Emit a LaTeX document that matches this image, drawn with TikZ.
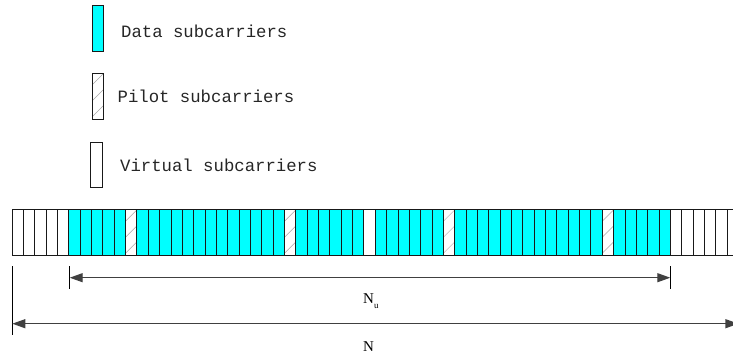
\documentclass[tikz,border=0pt]{standalone}
\usepackage{fontspec}
\setmonofont{Liberation Mono}
\newfontfamily\labelfont{Liberation Serif}
\usetikzlibrary{arrows.meta}
\definecolor{aqua}{RGB}{0,255,255}

\tikzset{
  x=1pt, y=-1pt,
  cell/.style={draw=black!90, line width=0.8pt, minimum width=11.35pt,
    minimum height=46pt, inner sep=0pt, outer sep=0pt, anchor=north west},
  datacell/.style={cell, fill=aqua},
  virtcell/.style={cell, fill=white},
  hatched/.style={path picture={
      \foreach \h in {2,18,34}{
        \draw[black!35, line width=0.5pt]
          ([yshift=\h pt]path picture bounding box.south west) -- ++(24pt,24pt);}}},
  pilotcell/.style={cell, fill=white, hatched},
  keybox/.style={draw=black!90, line width=0.8pt, inner sep=0pt, outer sep=0pt,
    anchor=north west, minimum width=11pt, minimum height=46pt},
  keytext/.style={anchor=base west, inner sep=0pt, text=black!85,
    font=\ttfamily\fontsize{17.3}{20}\selectfont},
  tick/.style={draw=black, line width=0.8pt},
  dim/.style={draw=black!75, line width=1.2pt,
    {Triangle[length=13pt,width=9pt]}-{Triangle[length=13pt,width=9pt]}},
  dimlabel/.style={anchor=base west, inner sep=0pt,
    font=\labelfont\fontsize{15}{18}\selectfont}
}

\begin{document}
\begin{tikzpicture}
\useasboundingbox (0,0) rectangle (733,354);
\clip (0,0) rectangle (733,354);

% legend
\node[keybox, fill=aqua] (kdata) at (92,5) {};
\node[keytext] (tdata) at (121,37.3) {Data subcarriers};
\node[keybox, hatched] (kpilot) at (92,73) {};
\node[keytext] (tpilot) at (117.5,102.3) {Pilot subcarriers};
\node[keybox, minimum width=12pt, minimum height=45pt] (kvirt) at (90,142) {};
\node[keytext] (tvirt) at (120,171.7) {Virtual subcarriers};

% the 64 subcarriers of one symbol
\foreach \i in {0,1,2,3,4,31,58,59,60,61,62,63}
  \node[virtcell] (c\i) at (12+\i*11.35,209.3) {};
\foreach \i in {10,24,38,52}
  \node[pilotcell] (c\i) at (12+\i*11.35,209.3) {};
\foreach \a/\b in {5/9,11/23,25/30,32/37,39/51,53/57}
  \foreach \i in {\a,...,\b}
    \node[datacell] (c\i) at (12+\i*11.35,209.3) {};

% dimension ticks
\coordinate (nuLt) at (69.7,266);
\coordinate (nuLb) at (69.7,289);
\coordinate (nuRt) at (670.3,266);
\coordinate (nuRb) at (670.3,289);
\coordinate (nLt) at (12.3,266);
\coordinate (nLb) at (12.3,335);
\draw[tick] (nuLt) -- (nuLb);
\draw[tick] (nuRt) -- (nuRb);
\draw[tick] (nLt) -- (nLb);

% dimension arrows
\coordinate (nuL) at (69.7,277.7);
\coordinate (nuR) at (670.3,277.7);
\coordinate (nL) at (12.3,323.7);
\coordinate (nR) at (738.4,323.7);
\draw[dim] (nuL) -- (nuR);
\draw[dim] (nL) -- (nR);

\node[dimlabel] (lnu) at (363,303) {N\raisebox{-5pt}{\fontsize{9}{10}\selectfont u}};
\node[dimlabel] (ln) at (363,351.5) {N};
\end{tikzpicture}
\end{document}
